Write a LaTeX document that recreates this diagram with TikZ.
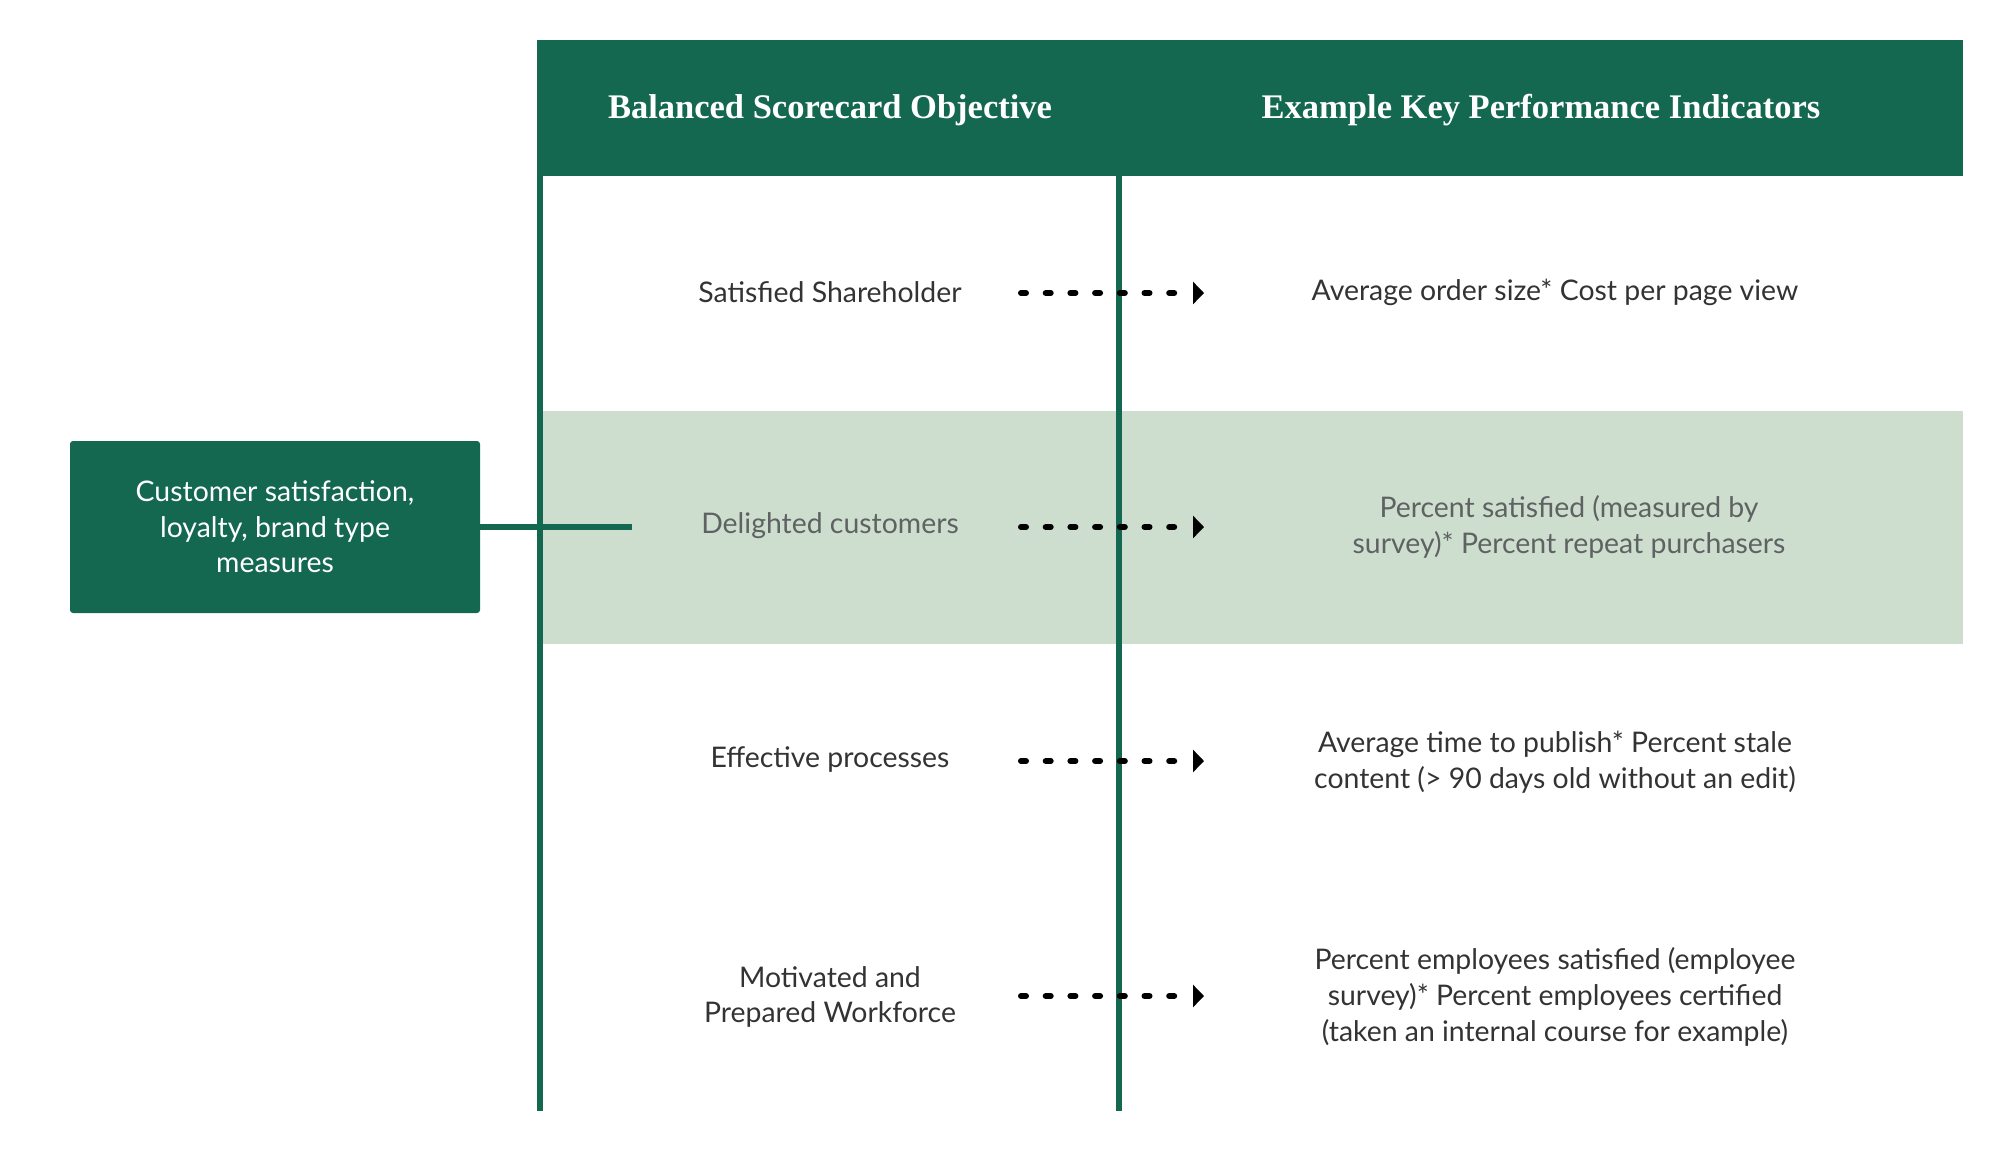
\documentclass[tikz,border=0pt]{standalone}
\usepackage{fontspec}
\setmainfont{Lato}
\newfontfamily\headfont{Liberation Serif}
\usetikzlibrary{arrows.meta}
\definecolor{dkgreen}{HTML}{14684F}
\definecolor{ltgreen}{HTML}{CDDECF}
\definecolor{txt}{HTML}{333333}
\definecolor{txtgray}{HTML}{5E6262}
\begin{document}
\begin{tikzpicture}[x=0.5pt,y=-0.5pt,
  body/.style={font=\fontsize{14.2}{17.8}\selectfont, text=txt, align=center, inner sep=0pt},
  bodygray/.style={body, text=txtgray},
  head/.style={font=\headfont\bfseries\fontsize{17.25}{21}\selectfont, text=white, inner sep=0pt},
  rule/.style={draw=dkgreen, line width=3pt},
  dotarrow/.style={line width=3pt, line cap=round, dash pattern=on 2.5pt off 9.85pt,
    -{Triangle[length=5.5pt,width=11pt]}}]
\useasboundingbox (0,0) rectangle (1995,1152);
% header bar and band
\node[fill=dkgreen, anchor=north west, minimum width=713pt, minimum height=68pt, inner sep=0pt] (header) at (537,40) {};
\node[fill=ltgreen, anchor=north west, minimum width=710pt, minimum height=116.5pt, inner sep=0pt] (band) at (543,411) {};
% header texts
\node[head] (h1) at (830,110) {Balanced Scorecard Objective};
\node[head] (h2) at (1541,110) {Example Key Performance Indicators};
% column rules
\coordinate (l1t) at (540,176); \coordinate (l1b) at (540,1111);
\coordinate (l2t) at (1119,176); \coordinate (l2b) at (1119,1111);
% left box
\node[fill=dkgreen, rounded corners=1.5pt, minimum width=205pt, minimum height=86pt,
  font=\fontsize{14.2}{17.8}\selectfont, text=white, align=center, inner sep=0pt] (cust) at (275,527)
  {Customer satisfaction,\\loyalty, brand type\\measures};
\coordinate (custend) at (632,527);
\draw[rule] (cust.east) -- (custend);
\draw[rule] (l1t) -- (l1b);
% rows
\node[body] (o1) at (830,292) {Satisfied Shareholder};
\node[body] (k1) at (1555,292) {Average order size* Cost per page view};
\node[bodygray] (o2) at (830,526) {Delighted customers};
\node[bodygray] (k2) at (1569,527) {Percent satisfied (measured by\\survey)* Percent repeat purchasers};
\node[body] (o3) at (830,760) {Effective processes};
\node[body] (k3) at (1555,762) {Average time to publish* Percent stale\\content (> 90 days old without an edit)};
\node[body] (o4) at (830,997) {Motivated and\\Prepared Workforce};
\node[body] (k4) at (1555,997) {Percent employees satisfied (employee\\survey)* Percent employees certified\\(taken an internal course for example)};
\draw[rule] (l2t) -- (l2b);
% arrows
\foreach \i/\y in {1/293,2/527,3/761,4/996}{
  \coordinate (as\i) at (1021,\y);
  \coordinate (ae\i) at (1204,\y);
  \draw[dotarrow] (as\i) -- (ae\i);
}
\end{tikzpicture}
\end{document}
